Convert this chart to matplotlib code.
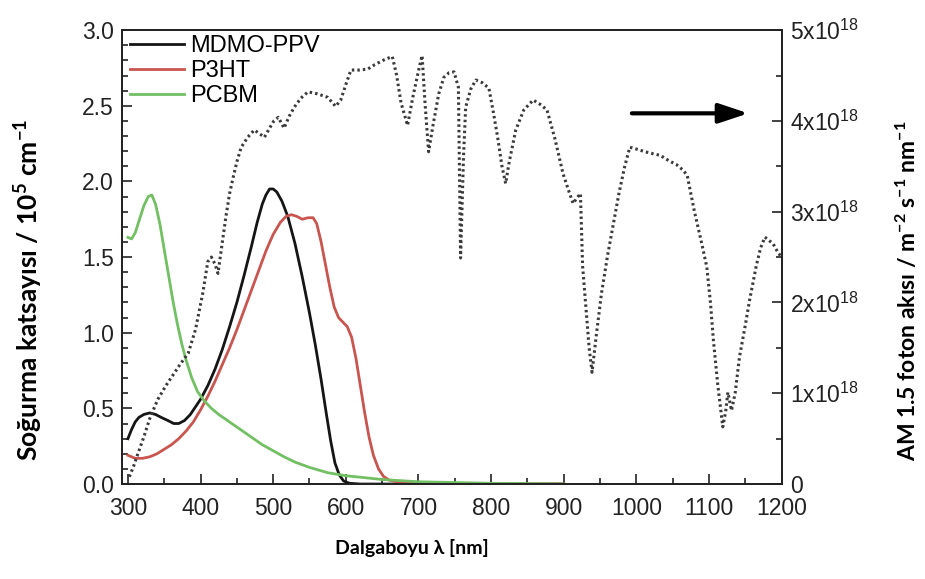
# Soğurma spektrumları + AM1.5 foton akısı
import matplotlib.pyplot as plt
from matplotlib.ticker import MultipleLocator, FuncFormatter

plt.rcParams['font.family'] = ['Liberation Sans', 'DejaVu Sans']
plt.rcParams['mathtext.default'] = 'regular'

# MDMO-PPV
mdmo_x = [300, 305, 310, 315, 322, 330, 338, 346, 355, 363, 370, 378, 386, 393, 400,
          410, 420, 430, 440, 450, 460, 470, 478, 485, 490, 495, 500, 505, 512, 520,
          530, 540, 550, 558, 566, 573, 579, 585, 591, 597, 605, 620, 700, 900]
mdmo_y = [0.30, 0.36, 0.41, 0.44, 0.46, 0.47, 0.46, 0.44, 0.42, 0.40, 0.40, 0.42, 0.46, 0.51, 0.56,
          0.65, 0.76, 0.89, 1.04, 1.20, 1.38, 1.57, 1.73, 1.85, 1.91, 1.95, 1.95, 1.93, 1.87, 1.77,
          1.59, 1.37, 1.13, 0.92, 0.69, 0.47, 0.29, 0.14, 0.06, 0.02, 0.005, 0.0, 0.0, 0.0]

# P3HT
p3ht_x = [300, 310, 320, 330, 340, 350, 360, 370, 380, 390, 400, 410, 420, 430, 440,
          450, 460, 470, 480, 490, 500, 510, 518, 525, 532, 540, 548, 555, 560, 566,
          572, 578, 584, 590, 596, 602, 608, 614, 620, 626, 632, 638, 645, 652, 660,
          675, 700, 800, 900]
p3ht_y = [0.19, 0.17, 0.17, 0.18, 0.20, 0.23, 0.26, 0.30, 0.35, 0.41, 0.49, 0.58, 0.68, 0.79, 0.90,
          1.02, 1.15, 1.28, 1.41, 1.54, 1.65, 1.73, 1.77, 1.78, 1.77, 1.75, 1.76, 1.76, 1.72, 1.60,
          1.45, 1.30, 1.17, 1.10, 1.07, 1.04, 0.97, 0.83, 0.65, 0.47, 0.31, 0.19, 0.10, 0.05, 0.025,
          0.01, 0.005, 0.0, 0.0]

# PCBM
pcbm_x = [300, 305, 310, 316, 322, 328, 333, 338, 344, 350, 356, 362, 368, 374, 380,
          388, 396, 405, 415, 425, 440, 455, 470, 485, 500, 515, 530, 550, 575, 600,
          650, 700, 800, 900]
pcbm_y = [1.63, 1.62, 1.66, 1.75, 1.84, 1.90, 1.91, 1.85, 1.72, 1.55, 1.38, 1.21, 1.06, 0.93, 0.82,
          0.70, 0.61, 0.55, 0.50, 0.46, 0.41, 0.36, 0.31, 0.26, 0.22, 0.18, 0.145, 0.11, 0.075, 0.055,
          0.03, 0.015, 0.005, 0.0]

# AM 1.5 foton akısı (x10^18)
am_x = [302, 308, 314, 322, 330, 341, 352, 362, 372, 383, 393, 403, 410, 415, 420,
        424, 428, 435, 440, 445, 450, 456, 465, 474, 481, 488, 495, 501, 507, 511,
        515, 522, 529, 538, 548, 560, 575, 586, 593, 600, 607, 618, 630, 640, 652,
        664, 670, 676, 685, 692, 700, 705, 709, 714, 720, 728, 735, 742, 749, 755,
        758, 762, 765, 772, 779, 788, 797, 803, 809, 815, 820, 825, 834, 845, 858,
        868, 877, 888, 899, 906, 913, 918, 923, 926, 930, 935, 939, 945, 952, 960,
        968, 976, 984, 991, 1000, 1012, 1022, 1033, 1045, 1055, 1064, 1070, 1080, 1090, 1097,
        1102, 1106, 1112, 1119, 1123, 1126, 1131, 1136, 1142, 1150, 1156, 1165, 1171, 1177, 1183,
        1188, 1195, 1200]
am_y = [0.08, 0.20, 0.34, 0.52, 0.72, 0.93, 1.08, 1.20, 1.32, 1.44, 1.70, 2.10, 2.45, 2.50, 2.42,
        2.32, 2.55, 2.95, 3.20, 3.38, 3.55, 3.71, 3.82, 3.90, 3.86, 3.82, 3.92, 4.00, 4.04, 3.98,
        3.92, 4.05, 4.15, 4.25, 4.32, 4.30, 4.26, 4.16, 4.23, 4.40, 4.56, 4.56, 4.57, 4.62, 4.67,
        4.71, 4.50, 4.20, 3.95, 4.25, 4.55, 4.72, 4.20, 3.66, 3.95, 4.30, 4.48, 4.53, 4.54, 4.37,
        2.49, 3.60, 4.15, 4.35, 4.45, 4.42, 4.36, 4.10, 3.82, 3.50, 3.31, 3.55, 3.90, 4.12, 4.23,
        4.18, 4.12, 3.80, 3.42, 3.25, 3.09, 3.15, 3.20, 2.40, 2.00, 1.50, 1.23, 1.65, 2.10, 2.50,
        2.85, 3.20, 3.50, 3.71, 3.69, 3.66, 3.64, 3.62, 3.56, 3.52, 3.46, 3.40, 3.00, 2.65, 2.39,
        2.00, 1.59, 1.10, 0.63, 0.80, 1.01, 0.81, 1.00, 1.40, 1.75, 2.03, 2.40, 2.60, 2.72, 2.68,
        2.65, 2.55, 2.50]

fig = plt.figure(figsize=(9.25, 5.79), dpi=100)
ax = fig.add_axes([0.132, 0.164, 0.713, 0.784])
ax2 = ax.twinx()

ax.plot(mdmo_x, mdmo_y, color='#151515', lw=2, label='MDMO-PPV')
ax.plot(p3ht_x, p3ht_y, color='#c8554f', lw=2, label='P3HT')
ax.plot(pcbm_x, pcbm_y, color='#72c063', lw=2, label='PCBM')
ax2.plot(am_x, [v * 1e18 for v in am_y], color='#3a3a3a', lw=2.2, linestyle=(0, (0.8, 1.0)))

ax.set_xlim(292, 1200)
ax.set_ylim(0, 3.0)
ax2.set_ylim(0, 5e18)

ax.xaxis.set_major_locator(MultipleLocator(100))
ax.xaxis.set_minor_locator(MultipleLocator(50))
ax.yaxis.set_major_locator(MultipleLocator(0.5))
ax.yaxis.set_minor_locator(MultipleLocator(0.1))
ax2.yaxis.set_major_locator(MultipleLocator(1e18))
ax2.yaxis.set_minor_locator(MultipleLocator(0.5e18))
ax.yaxis.set_major_formatter(FuncFormatter(lambda v, p: f'{v:.1f}'))
ax2.yaxis.set_major_formatter(FuncFormatter(
    lambda v, p: '0' if v == 0 else f'{int(round(v / 1e18))}x10$^{{18}}$'))

ax.tick_params(axis='both', which='both', direction='in', labelsize=16.5, colors='#222222')
ax.tick_params(which='major', length=7, width=1.2)
ax.tick_params(which='minor', length=4, width=1.2)
ax.tick_params(axis='x', pad=9)
ax.tick_params(axis='y', right=False, pad=6)
ax2.tick_params(axis='y', which='both', direction='in', labelsize=16.5, colors='#222222', width=1.2)
ax2.tick_params(which='major', length=7, pad=6)
ax2.tick_params(which='minor', length=4)
for a in (ax, ax2):
    for s in a.spines.values():
        s.set_linewidth(1.3)
        s.set_color('#222222')

ax.annotate('', xy=(1158, 2.45), xytext=(990, 2.45),
            arrowprops=dict(arrowstyle='-|>,head_length=0.9,head_width=0.3',
                            lw=3, color='black', mutation_scale=20))

ax.legend(loc='upper left', bbox_to_anchor=(-0.01, 1.02), frameon=False, fontsize=17,
          handlelength=2.3, handletextpad=0.25, labelspacing=0.12, borderaxespad=0.2)

lab_font = ['Lato', 'DejaVu Sans']
fig.text(0.445, 0.053, 'Dalgaboyu λ [nm]', ha='center', va='center',
         fontsize=14, fontweight='bold', family=lab_font)
fig.text(0.031, 0.5, 'Soğurma katsayısı / 10$^{5}$ cm$^{-1}$', ha='center', va='center',
         rotation=90, fontsize=19, fontweight='bold', family=lab_font)
fig.text(0.981, 0.497, 'AM 1.5 foton akısı / m$^{-2}$ s$^{-1}$ nm$^{-1}$', ha='center', va='center',
         rotation=90, fontsize=16.5, fontweight='bold', family=lab_font)

plt.savefig('out.png', dpi=100)
